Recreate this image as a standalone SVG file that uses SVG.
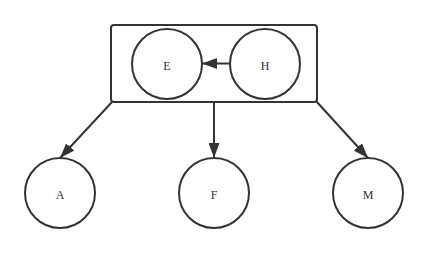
<svg xmlns="http://www.w3.org/2000/svg" width="428" height="253" viewBox="0 0 428 253">
<style>
.n{fill:#fff;stroke:#333;stroke-width:2}
.c{fill:none;stroke:#333;stroke-width:2}
.t{font-family:"Liberation Serif",serif;font-size:12px;fill:#333;text-anchor:middle}
.e{stroke:#333;stroke-width:2;fill:none}
</style>
<defs>
<marker id="ah" viewBox="0 0 15 11" refX="15" refY="5.5" markerWidth="15" markerHeight="11" orient="auto" markerUnits="userSpaceOnUse">
<path d="M0,0 L15,5.5 L0,11 z" fill="#333"/>
</marker>
</defs>
<rect id="cluster" x="111" y="25" width="206" height="77" rx="3" class="c"/>
<g id="E"><circle cx="167" cy="64" r="35" class="n"/><text x="167" y="70" class="t">E</text></g>
<g id="H"><circle cx="265" cy="64" r="35" class="n"/><text x="265" y="70" class="t">H</text></g>
<g id="A"><circle cx="60" cy="193" r="35" class="n"/><text x="60" y="199" class="t">A</text></g>
<g id="F"><circle cx="214" cy="193" r="35" class="n"/><text x="214" y="199" class="t">F</text></g>
<g id="M"><circle cx="368" cy="193" r="35" class="n"/><text x="368" y="199" class="t">M</text></g>
<g id="edges">
<line x1="230" y1="63.5" x2="202" y2="63.5" class="e" marker-end="url(#ah)"/>
<line x1="112" y1="102" x2="60" y2="158" class="e" marker-end="url(#ah)"/>
<line x1="214" y1="102" x2="214" y2="158" class="e" marker-end="url(#ah)"/>
<line x1="316" y1="101" x2="368" y2="158" class="e" marker-end="url(#ah)"/>
</g>
</svg>
